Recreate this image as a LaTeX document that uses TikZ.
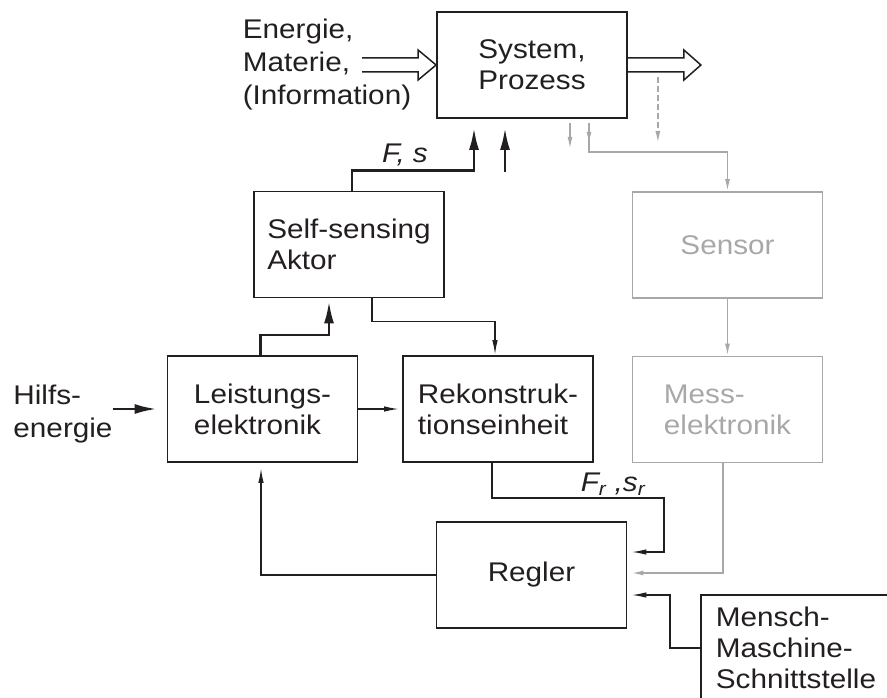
\documentclass[tikz,border=0pt]{standalone}
\usepackage{fontspec}
\setmainfont{Liberation Sans}[FakeStretch=1.1]
\usetikzlibrary{arrows.meta}
\definecolor{ink}{RGB}{35,31,32}
\definecolor{lgray}{RGB}{168,168,168}

\tikzset{
  block/.style={draw=ink, line width=1.8pt, minimum width=190pt, minimum height=106pt, align=left, text=ink},
  greyblock/.style={block, draw=lgray, text=lgray},
  sig/.style={draw=ink, line width=1.5pt, -{Latex[length=15pt,width=5.5pt]}},
  power/.style={draw=ink, line width=2.6pt, -{Latex[length=22pt,width=10pt]}},
  greysig/.style={sig, draw=lgray, -{Latex[length=12pt,width=5pt]}},
  flow/.style={draw=ink, line width=1.5pt, line join=miter},
  lbl/.style={inner sep=0pt, align=left, text=ink}
}

\begin{document}
\begin{tikzpicture}[x=1pt, y=-1pt, font=\fontsize{27}{31}\selectfont]
  \useasboundingbox (0,0) rectangle (887,698);
  \clip (0,0) rectangle (887,698);

  % blocks
  \node[block] (sys) at (532,65) {System,\\Prozess};
  \node[block] (akt) at (349,244.5) {Self-sensing\\Aktor};
  \node[block] (lei) at (262.5,409) {Leistungs-\\elektronik};
  \node[block] (rek) at (498,409) {Rekonstruk-\\tionseinheit};
  \node[block] (reg) at (531.5,575) {Regler};
  \node[greyblock] (sen) at (727.5,245) {Sensor};
  \node[greyblock] (mes) at (727.5,409.5) {Mess-\\elektronik};
  \node[block, anchor=north west, minimum width=187pt, text width=157pt, inner xsep=15pt] (mms) at (700,594) {Mensch-\\Maschine-\\\mbox{Schnittstelle}};

  % labels
  \node[lbl, font=\fontsize{27}{33}\selectfont] (inp) at (327,65) {Energie,\\Materie,\\(Information)};
  \node[lbl, font=\fontsize{27}{33}\selectfont] (hil) at (63,414) {Hilfs-\\energie};
  \node[lbl] (fs) at (405,155) {\itshape F, s};
  \node[lbl] (frs) at (613,484) {\itshape F\textsubscript{r} ,s\textsubscript{r}};

  % material / energy flow
  \draw[flow] ([shift={(-74,-7)}]sys.west) -- ++(56,0) -- ++(0,-8) -- (sys.west) -- ++(-18,15) -- ++(0,-8) -- ++(-56,0);
  \draw[flow] ([shift={(0,-7)}]sys.east) -- ++(56,0) -- ++(0,-8) -- ++(17,15) -- ++(-17,15) -- ++(0,-8) -- ++(-56,0);

  % actuator into process
  \draw[power, shorten >=9pt] ([xshift=3pt]akt.north) -- ++(0,-20) -| ([xshift=-58pt]sys.south);
  \coordinate (aux) at (505,172);
  \draw[power, shorten >=9pt] (aux) -- (aux |- sys.south);

  % self-sensing loop
  \draw[power, shorten >=3pt] ([xshift=-2pt]lei.north) -- ++(0,-20) -| ([xshift=-20pt]akt.south);
  \draw[sig] ([xshift=23pt]akt.south) -- ++(0,23) -| ([xshift=-3pt]rek.north);
  \draw[power, shorten >=10pt] (hil.east |- lei.west) -- (lei.west);
  \draw[sig, shorten >=3pt] (lei.east) -- (rek.west);
  \draw[sig, shorten >=5pt] (reg.west) -| ([xshift=-1.5pt]lei.south);
  \coordinate (fr) at (664,498);
  \draw[sig, shorten >=4pt] ([xshift=-6pt]rek.south) |- (fr) |- ([yshift=23pt]reg.east);
  \draw[sig, shorten >=4pt] (mms.west) -- ++(-30,0) |- ([yshift=-20pt]reg.east);

  % conventional sensor path
  \draw[greysig] ([shift={(38,4)}]sys.south) -- ++(0,26);
  \draw[greysig] ([shift={(57,4)}]sys.south) -- ++(0,21);
  \draw[greysig] ([shift={(57,4)}]sys.south) |- ([yshift=39pt]sen.north) -- (sen.north);
  \draw[greysig, dash pattern=on 6pt off 3pt] ([shift={(30,12)}]sys.east) -- ++(0,66);
  \draw[greysig] (sen.south) -- (mes.north);
  \draw[greysig, shorten >=4pt] ([xshift=-4.5pt]mes.south) |- ([yshift=2pt]reg.east);
\end{tikzpicture}
\end{document}
